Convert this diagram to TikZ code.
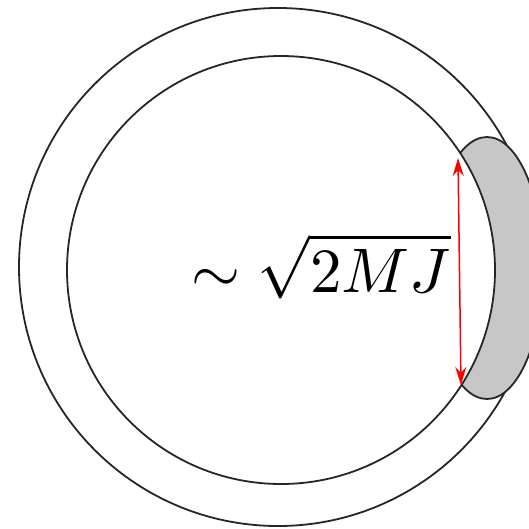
\documentclass[tikz,border=0pt]{standalone}
\usetikzlibrary{arrows.meta}
\begin{document}
\begin{tikzpicture}[x=1pt,y=-1pt,
  ring/.style={draw=black!85,line width=1.8pt},
  dimarrow/.style={draw=red,line width=1.5pt,{Stealth[length=18pt,width=11pt]}-{Stealth[length=18pt,width=11pt]}}]
\useasboundingbox (0,0) rectangle (529,528);
\begin{scope}
\clip (0,0) rectangle (529,528);
\draw[ring] (278,267) circle[radius=259];
\draw[ring,fill=black!22] (487,268) ellipse[x radius=56,y radius=131];
\draw[ring,fill=white] (281,270) circle[radius=214];
\end{scope}
\coordinate (top) at (458,158);
\coordinate (bot) at (461,385);
\draw[dimarrow] (top) -- (bot);
\node[anchor=base east,inner sep=0pt,scale=6.3] (lbl) at (452,292) {$\sim\sqrt{2MJ}$};
\end{tikzpicture}
\end{document}
